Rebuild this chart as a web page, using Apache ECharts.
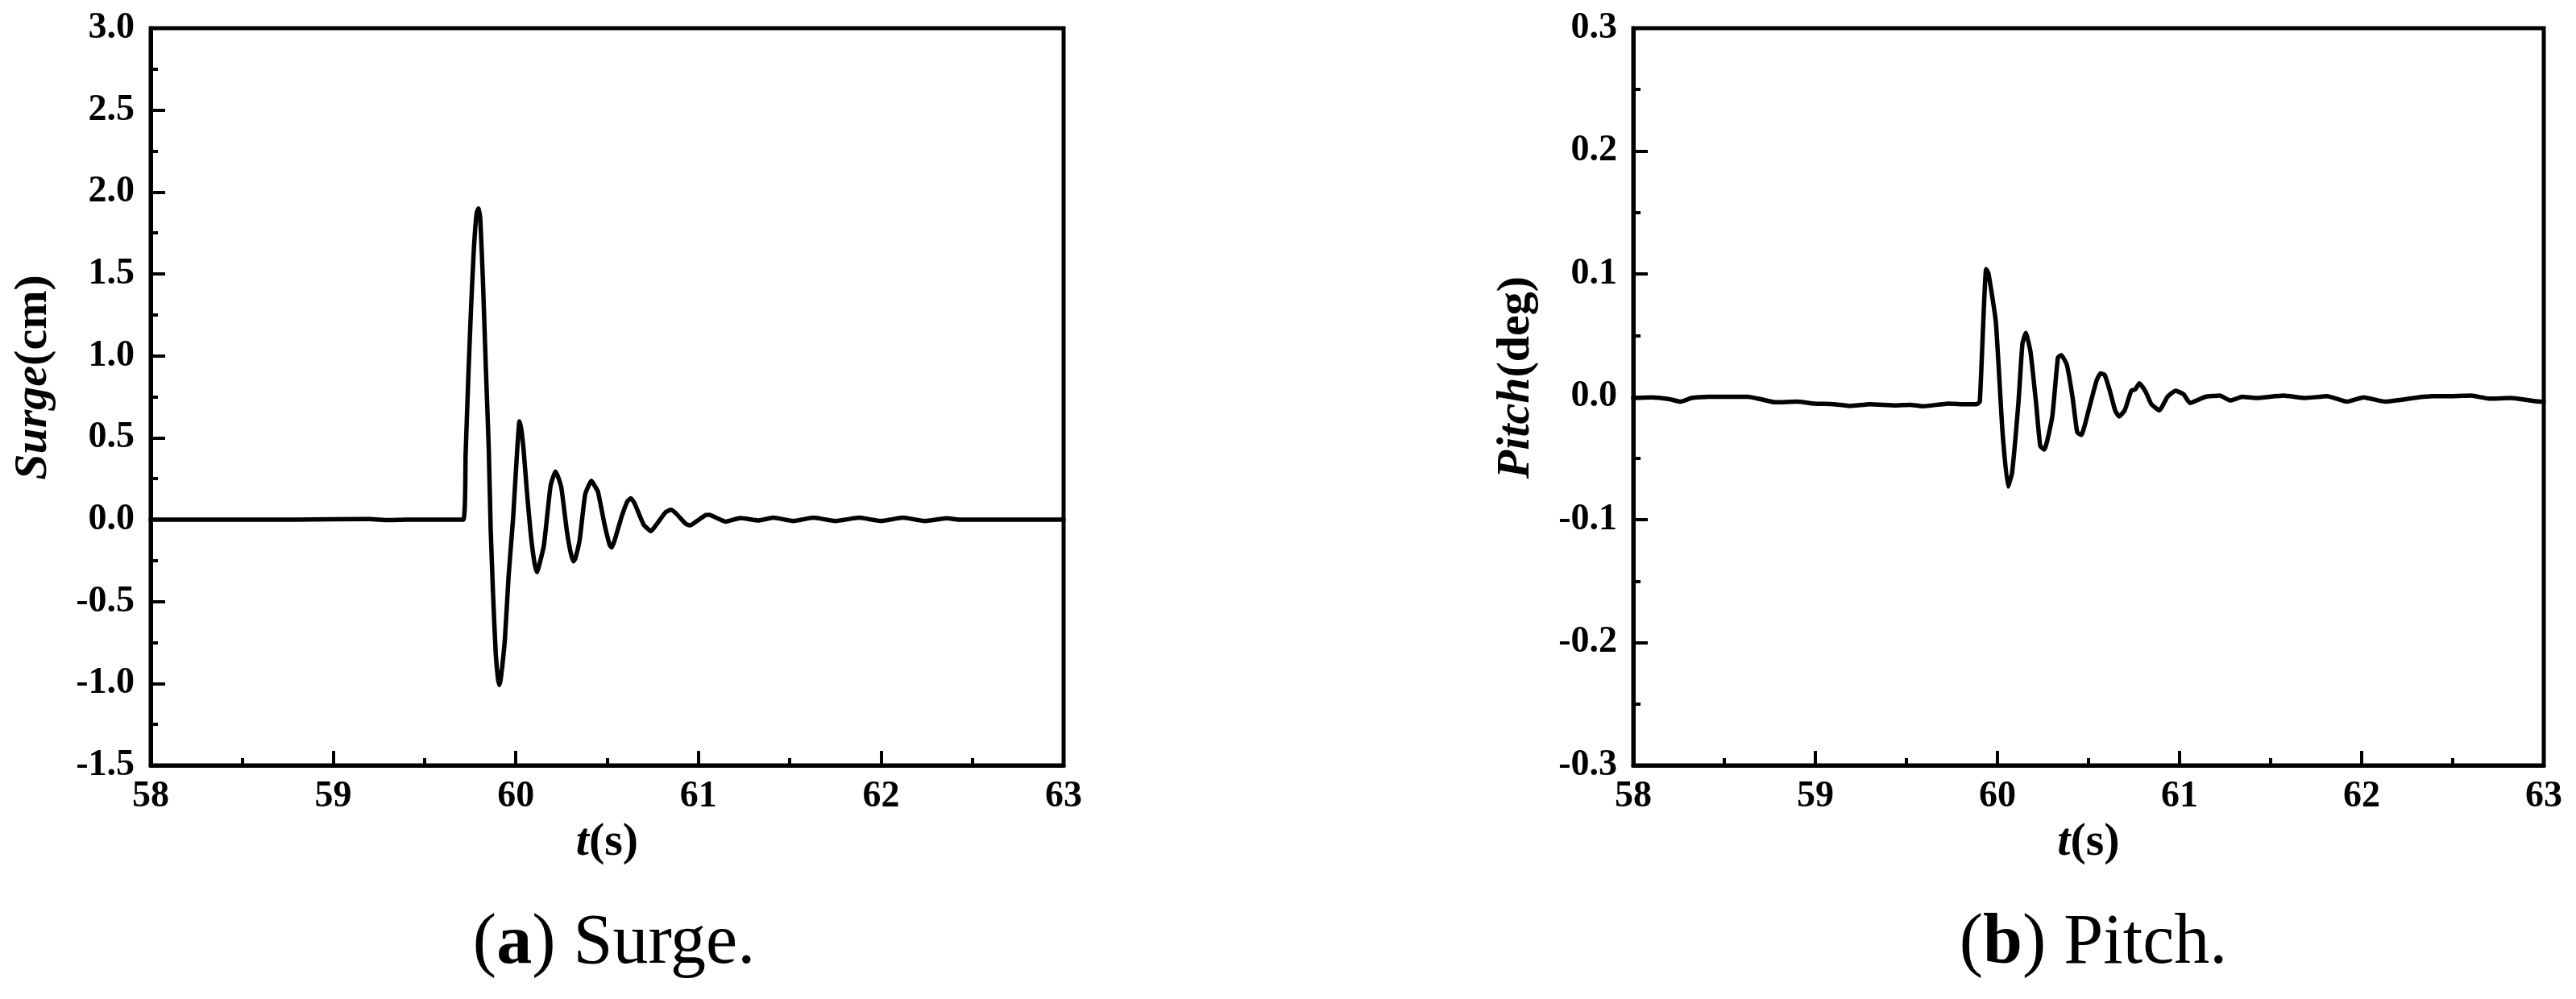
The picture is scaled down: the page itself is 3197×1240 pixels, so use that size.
<!DOCTYPE html>
<html>
<head>
<meta charset="utf-8">
<script src="https://cdn.jsdelivr.net/npm/echarts@6/dist/echarts.min.js"></script>
<style>
  html, body { margin: 0; padding: 0; background: #fff; }
  #chart { width: 3197px; height: 1240px; }
</style>
</head>
<body>
<div id="chart"></div>
<script>
// tick values
const timeTicks = [58, 59, 60, 61, 62, 63]
const surgeTicks = [-1.5, -1.0, -0.5, 0.0, 0.5, 1.0, 1.5, 2.0, 2.5, 3.0]
const pitchTicks = [-0.3, -0.2, -0.1, 0.0, 0.1, 0.2, 0.3]

// (a) surge, cm
const surgeTime = [
  58.00, 58.80, 59.20, 59.30, 59.40, 59.712, 59.725, 59.74, 59.755, 59.77,
  59.785, 59.795, 59.805, 59.82, 59.835, 59.852, 59.862, 59.875, 59.89, 59.903,
  59.911, 59.92, 59.94, 59.96, 59.985, 60.007, 60.02, 60.03, 60.043, 60.06,
  60.08, 60.10, 60.115, 60.125, 60.154, 60.19, 60.217, 60.235, 60.25, 60.28,
  60.30, 60.315, 60.325, 60.35, 60.38, 60.414, 60.43, 60.45, 60.485, 60.514,
  60.525, 60.54, 60.58, 60.61, 60.63, 60.65, 60.70, 60.74, 60.77, 60.82,
  60.85, 60.88, 60.93, 60.955, 60.99, 61.04, 61.06, 61.10, 61.15, 61.23,
  61.33, 61.41, 61.52, 61.63, 61.75, 61.88, 62.00, 62.12, 62.24, 62.36,
  62.43, 63.00
]
const surgeValue = [
  0, 0, 0.004, -0.003, 0, 0, 0.40, 0.88, 1.30, 1.65,
  1.87, 1.90, 1.84, 1.45, 0.95, 0.42, -0.05, -0.45, -0.82, -0.98,
  -1.01, -0.95, -0.73, -0.35, 0.01, 0.42, 0.60, 0.55, 0.42, 0.18,
  -0.07, -0.25, -0.32, -0.29, -0.155, 0.205, 0.294, 0.25, 0.19, -0.074,
  -0.20, -0.254, -0.24, -0.12, 0.155, 0.237, 0.21, 0.17, -0.025, -0.155,
  -0.17, -0.13, 0.02, 0.11, 0.13, 0.10, -0.03, -0.07, -0.03, 0.045,
  0.06, 0.035, -0.025, -0.035, -0.01, 0.028, 0.03, 0.01, -0.012, 0.01,
  -0.005, 0.012, -0.008, 0.012, -0.008, 0.012, -0.008, 0.012, -0.008, 0.008,
  0, 0
]

// (b) pitch, deg
const pitchTime = [
  58.00, 58.10, 58.20, 58.26, 58.32, 58.41, 58.63, 58.70, 58.78, 58.90,
  58.995, 59.10, 59.19, 59.30, 59.44, 59.52, 59.59, 59.73, 59.80, 59.885,
  59.903, 59.938, 59.951, 59.991, 60.027, 60.058, 60.080, 60.115, 60.137, 60.155,
  60.181, 60.212, 60.235, 60.257, 60.301, 60.332, 60.350, 60.381, 60.412, 60.438,
  60.460, 60.504, 60.544, 60.566, 60.588, 60.615, 60.646, 60.668, 60.699, 60.735,
  60.757, 60.779, 60.814, 60.845, 60.889, 60.934, 60.978, 61.022, 61.058, 61.142,
  61.221, 61.279, 61.345, 61.42, 61.57, 61.69, 61.81, 61.92, 62.01, 62.13,
  62.31, 62.39, 62.50, 62.60, 62.70, 62.82, 62.98, 63.00
]
const pitchValue = [
  -0.001, -0.0005, -0.002, -0.004, -0.001, 0.0, 0.0, -0.002, -0.0045, -0.004,
  -0.0056, -0.006, -0.0075, -0.006, -0.007, -0.0065, -0.0077, -0.0056, -0.006, -0.006,
  -0.004, 0.104, 0.100, 0.061, -0.027, -0.073, -0.062, -0.005, 0.043, 0.052,
  0.037, -0.005, -0.040, -0.043, -0.016, 0.032, 0.034, 0.026, 0.0, -0.029,
  -0.031, -0.009, 0.013, 0.019, 0.018, 0.006, -0.011, -0.016, -0.011, 0.005,
  0.006, 0.011, 0.004, -0.006, -0.011, 0.0, 0.005, 0.002, -0.005, 0.0,
  0.001, -0.003, 0.0, -0.001, 0.001, -0.001, 0.0005, -0.004, -0.0005, -0.004,
  -0.0005, 0.0005, 0.0005, 0.001, -0.0015, -0.001, -0.004, -0.004
]

const FONT = '"Times New Roman", "Liberation Serif", serif'
const CAPTION_FONT = '"Palatino Linotype", "Book Antiqua", "Liberation Serif", serif'

function zip(xs, ys) {
  return xs.map((x, i) => [x, ys[i]])
}

function nameStyle() {
  return {
    fontFamily: FONT, fontSize: 58, fontWeight: 'bold', color: '#000',
    rich: {
      i: { fontFamily: FONT, fontSize: 58, fontWeight: 'bold', fontStyle: 'italic', color: '#000' },
      n: { fontFamily: FONT, fontSize: 58, fontWeight: 'bold', color: '#000' },
    },
  }
}

const tickStyle = { color: '#000', width: 4 }

function xAxisFor(gridIndex) {
  return {
    type: 'value', gridIndex,
    min: timeTicks[0], max: timeTicks[timeTicks.length - 1], interval: timeTicks[1] - timeTicks[0],
    name: '{i|t}{n|(s)}', nameLocation: 'middle', nameGap: 38,
    nameTextStyle: nameStyle(),
    axisLine: { show: true, onZero: false, lineStyle: { color: '#000', width: 5 } },
    axisTick: { show: true, inside: true, length: 18, lineStyle: tickStyle },
    minorTick: { show: true, splitNumber: 2, length: 9, lineStyle: tickStyle },
    axisLabel: {
      margin: 16, color: '#000', fontFamily: FONT, fontSize: 46, fontWeight: 'bold',
      showMinLabel: true, showMaxLabel: true,
    },
    splitLine: { show: false },
    minorSplitLine: { show: false },
  }
}

function yAxisFor(gridIndex, ticks, name) {
  return {
    type: 'value', gridIndex,
    min: ticks[0], max: ticks[ticks.length - 1],
    interval: Math.round((ticks[1] - ticks[0]) * 1000) / 1000,
    name, nameLocation: 'middle', nameGap: 116, nameRotate: 90,
    nameTextStyle: Object.assign(nameStyle(), { padding: [0, 0, 0, 48] }),
    axisLine: { show: true, onZero: false, lineStyle: { color: '#000', width: 5 } },
    axisTick: { show: true, inside: true, length: 18, lineStyle: tickStyle },
    minorTick: { show: true, splitNumber: 2, length: 9, lineStyle: tickStyle },
    axisLabel: {
      margin: 20, color: '#000', fontFamily: FONT, fontSize: 46, fontWeight: 'bold',
      showMinLabel: true, showMaxLabel: true,
      formatter: (v) => (Math.abs(v) < 1e-9 ? 0 : v).toFixed(1),
    },
    splitLine: { show: false },
    minorSplitLine: { show: false },
  }
}

function lineSeries(idx, data) {
  return {
    type: 'line', xAxisIndex: idx, yAxisIndex: idx,
    data, symbol: 'none', showSymbol: false, smooth: 0.15,
    lineStyle: { color: '#000', width: 5.5, join: 'round', cap: 'round' },
    animation: false,
  }
}

function caption(letter, word, centerX) {
  return {
    text: '(' + '{b|' + letter + '}) ' + word,
    left: centerX, top: 1123, textAlign: 'center',
    textStyle: {
      fontFamily: CAPTION_FONT, fontSize: 88, fontWeight: 'normal', color: '#000',
      rich: { b: { fontFamily: CAPTION_FONT, fontSize: 88, fontWeight: 'bold', color: '#000' } },
    },
  }
}

const chart = echarts.init(document.getElementById('chart'), null, { renderer: 'canvas' })

chart.setOption({
  backgroundColor: '#fff',
  animation: false,
  title: [
    caption('a', 'Surge.', 757),
    caption('b', 'Pitch.', 2593),
  ],
  grid: [
    { left: 187, top: 35, width: 1133, height: 915, containLabel: false, show: true, borderColor: '#000', borderWidth: 5, backgroundColor: 'transparent' },
    { left: 2027, top: 35, width: 1130, height: 915, containLabel: false, show: true, borderColor: '#000', borderWidth: 5, backgroundColor: 'transparent' },
  ],
  xAxis: [xAxisFor(0), xAxisFor(1)],
  yAxis: [
    yAxisFor(0, surgeTicks, '{i|Surge}{n|(cm)}'),
    yAxisFor(1, pitchTicks, '{i|Pitch}{n|(deg)}'),
  ],
  series: [
    lineSeries(0, zip(surgeTime, surgeValue)),
    lineSeries(1, zip(pitchTime, pitchValue)),
  ],
})
</script>
</body>
</html>
